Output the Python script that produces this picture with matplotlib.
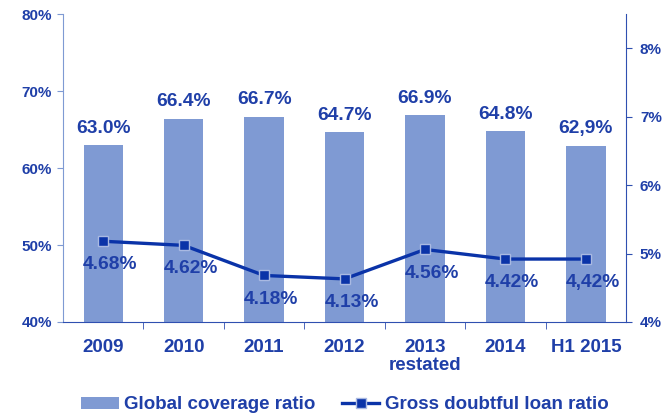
import matplotlib
matplotlib.use("Agg")
import matplotlib.pyplot as plt
from matplotlib.lines import Line2D
from matplotlib.patches import Patch

plt.rcParams['font.family'] = ['Liberation Sans', 'DejaVu Sans']

categories = ["2009", "2010", "2011", "2012", "2013\nrestated", "2014", "H1 2015"]
coverage = [63.0, 66.4, 66.7, 64.7, 66.9, 64.8, 62.9]
coverage_labels = ["63.0%", "66.4%", "66.7%", "64.7%", "66.9%", "64.8%", "62,9%"]
doubtful = [4.68, 4.62, 4.18, 4.13, 4.56, 4.42, 4.42]
doubtful_labels = ["4.68%", "4.62%", "4.18%", "4.13%", "4.56%", "4.42%", "4,42%"]
left_ticks = [40, 50, 60, 70, 80]
left_tick_labels = ["40%", "50%", "60%", "70%", "80%"]
right_ticks = [3.5, 4.5, 5.5, 6.5, 7.5]
right_tick_labels = ["4%", "5%", "6%", "7%", "8%"]

TXT = '#1F3FA8'
BAR = '#7F9AD3'
LINE = '#0A33A8'
SPINE_L = '#7F9AD3'
SPINE_D = '#2F4FB0'

fig = plt.figure(figsize=(6.71, 4.16), dpi=100)
ax = fig.add_axes([0.0939, 0.226, 0.8391, 0.740])
x = list(range(len(categories)))
ax.bar(x, coverage, width=0.49, bottom=0, color=BAR, zorder=2)
ax.set_ylim(40, 80)
ax.set_xlim(-0.5, len(categories) - 0.5)
ax.set_yticks(left_ticks)
ax.set_yticklabels(left_tick_labels, fontsize=11, fontweight='bold', color=TXT)
ax.set_xticks(x)
ax.set_xticklabels(categories, fontsize=13.5, fontweight='bold', color=TXT,
                   linespacing=1.1)
ax.tick_params(axis='x', length=0, pad=12)
ax.set_xticks([i + 0.5 for i in x[:-1]], minor=True)
ax.tick_params(axis='x', which='minor', length=5, color=SPINE_D, direction='out')
ax.tick_params(axis='y', length=4, color=SPINE_L, pad=4)
for s in ['top', 'right']:
    ax.spines[s].set_visible(False)
ax.spines['left'].set_color(SPINE_L)
ax.spines['bottom'].set_color(SPINE_D)
for xi, v, lab in zip(x, coverage, coverage_labels):
    ax.annotate(lab, (xi, v), xytext=(0, 6), textcoords='offset points',
                ha='center', va='bottom', fontsize=13.8, fontweight='bold', color=TXT)

ax2 = ax.twinx()
ax2.set_ylim(3.5, 8.0)
ax2.plot(x, doubtful, color=LINE, lw=2.4, marker='s', markersize=6.5,
         markerfacecolor=LINE, markeredgecolor='#A9B9E2', markeredgewidth=1, zorder=3)
ax2.set_yticks(right_ticks)
ax2.set_yticklabels(right_tick_labels, fontsize=11, fontweight='bold', color=TXT)
ax2.tick_params(axis='y', length=4, color=SPINE_D, pad=6)
for s in ['top', 'left', 'bottom']:
    ax2.spines[s].set_visible(False)
ax2.spines['right'].set_color(SPINE_D)
for xi, v, lab in zip(x, doubtful, doubtful_labels):
    ax2.annotate(lab, (xi, v), xytext=(5, -17), textcoords='offset points',
                 ha='center', va='center', fontsize=13.8, fontweight='bold', color=TXT)

handles = [Patch(facecolor=BAR, edgecolor='none'),
           Line2D([0], [0], color=LINE, lw=2.4, marker='s', markersize=6.5,
                  markerfacecolor=LINE, markeredgecolor='#A9B9E2')]
leg = fig.legend(handles, ["Global coverage ratio", "Gross doubtful loan ratio"],
                 loc='center', bbox_to_anchor=(0.514, 0.027), ncol=2, frameon=False,
                 prop={'size': 13.5, 'weight': 'bold'}, handlelength=2.0,
                 handleheight=0.6, columnspacing=1.4, handletextpad=0.3)
for t in leg.get_texts():
    t.set_color(TXT)

fig.savefig("out.png", dpi=100)
